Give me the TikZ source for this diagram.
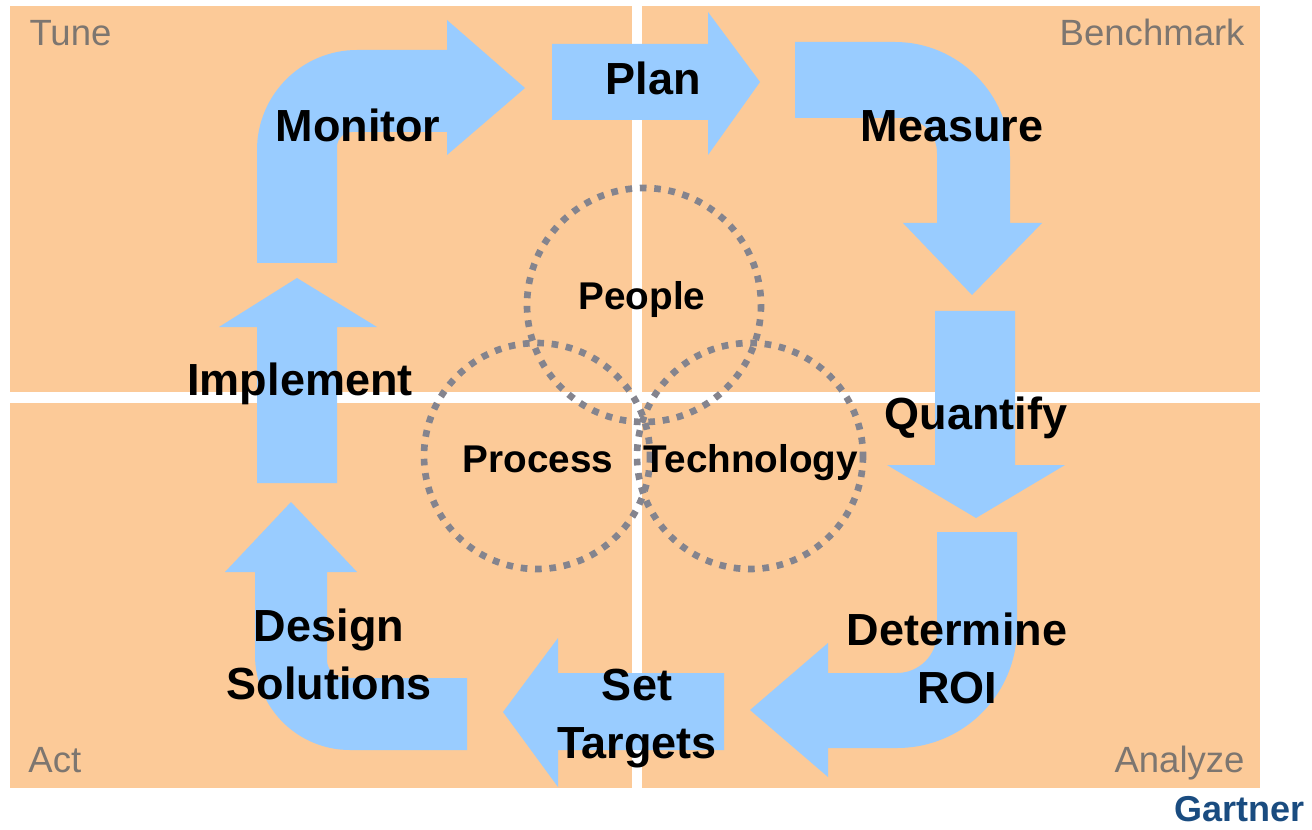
\documentclass[tikz,border=0pt]{standalone}
\usepackage{fontspec}
\setmainfont{Liberation Sans}
\usepackage{tikz}
\tikzset{every picture/.style={line width=0.75pt}}
\definecolor{peach}{RGB}{252,202,152}
\definecolor{flowblue}{RGB}{153,204,255}
\definecolor{ringgray}{RGB}{132,132,142}
\definecolor{cornergray}{RGB}{125,118,112}
\definecolor{gartnerblue}{RGB}{26,76,128}
\tikzset{
  quadrant/.style={fill=peach, draw=none},
  flow/.style={fill=flowblue, draw=none},
  ring/.style={draw=ringgray, line width=5pt, dash pattern=on 5pt off 5.8pt},
  steplabel/.style={font=\fontsize{33.75}{43.5}\selectfont\bfseries, inner sep=0.75pt},
  ringlabel/.style={font=\fontsize{29}{34}\selectfont\bfseries, inner sep=0.75pt},
  cornerlabel/.style={font=\fontsize{27.4}{32}\selectfont, text=cornergray, inner sep=0.75pt}
}

\begin{document}
\begin{tikzpicture}[x=0.75pt,y=0.75pt,yscale=-1,xscale=1]
\useasboundingbox (0,0) rectangle (1312,830);

%Shape: Rectangle (Tune)
\fill [quadrant] (10,6) -- (632,6) -- (632,392) -- (10,392) -- cycle ;
%Shape: Rectangle (Benchmark)
\fill [quadrant] (642,6) -- (1260,6) -- (1260,392) -- (642,392) -- cycle ;
%Shape: Rectangle (Act)
\fill [quadrant] (10,403) -- (632,403) -- (632,788) -- (10,788) -- cycle ;
%Shape: Rectangle (Analyze)
\fill [quadrant] (642,403) -- (1260,403) -- (1260,788) -- (642,788) -- cycle ;

%Shape: Circle (People)
\draw [ring] (644,305) circle (117) ;
%Shape: Circle (Process)
\draw [ring] (537,456) circle (113) ;
%Shape: Circle (Technology)
\draw [ring] (750,456) circle (113) ;

%Shape: Right Arrow (Plan)
\fill [flow] (552,44) -- (708,44) -- (708,12) -- (760,82) -- (708,155) -- (708,120) -- (552,120) -- cycle ;
%Shape: Bent Arrow (Measure)
\fill [flow] (795,42) -- (895,42) .. controls (958,42) and (1010,94) .. (1010,157) -- (1010,223) -- (1042,223) -- (972,295) -- (903,223) -- (937,223) -- (937,153) .. controls (937,133.7) and (921.3,118) .. (902,118) -- (795,118) -- cycle ;
%Shape: Down Arrow (Quantify)
\fill [flow] (935,311) -- (1015,311) -- (1015,465) -- (1065,465) -- (976,518) -- (887,465) -- (935,465) -- cycle ;
%Shape: Bent Arrow (Determine ROI)
\fill [flow] (937,532) -- (1017,532) -- (1017,628) .. controls (1017,694.3) and (963.3,748) .. (897,748) -- (828,748) -- (828,777) -- (750,710) -- (828,643) -- (828,673) -- (897,673) .. controls (919.1,673) and (937,655.1) .. (937,633) -- cycle ;
%Shape: Left Arrow (Set Targets)
\fill [flow] (724,673) -- (558,673) -- (558,638) -- (503,712) -- (558,787) -- (558,750) -- (724,750) -- cycle ;
%Shape: Bent Arrow (Design Solutions)
\fill [flow] (467,678) -- (467,750) -- (350,750) .. controls (297.5,750) and (255,707.5) .. (255,655) -- (255,572) -- (225,572) -- (291,502) -- (357,572) -- (327,572) -- (327,660) .. controls (327,669.9) and (335.1,678) .. (345,678) -- cycle ;
%Shape: Up Arrow (Implement)
\fill [flow] (257,483) -- (257,327) -- (219,327) -- (297,278) -- (377,327) -- (337,327) -- (337,483) -- cycle ;
%Shape: Bent Arrow (Monitor)
\fill [flow] (257,263) -- (257,150) .. controls (257,94.8) and (301.8,50) .. (357,50) -- (447,50) -- (447,20) -- (525,88) -- (447,155) -- (447,132) -- (352,132) .. controls (343.7,132) and (337,138.7) .. (337,147) -- (337,263) -- cycle ;

% Text Node
\draw (28,46) node [anchor=base west] [cornerlabel] (tune) {Tune};
% Text Node
\draw (1246,46) node [anchor=base east] [cornerlabel] (benchmark) {Benchmark};
% Text Node
\draw (27,772) node [anchor=base west] [cornerlabel] (act) {Act};
% Text Node
\draw (1246,772) node [anchor=base east] [cornerlabel] (analyze) {Analyze};
% Text Node
\draw (653,95) node [anchor=base] [steplabel] (plan) {Plan};
% Text Node
\draw (952,142) node [anchor=base] [steplabel] (measure) {Measure};
% Text Node
\draw (976,429) node [anchor=base] [steplabel] (quantify) {Quantify};
% Text Node
\draw (957,658) node [steplabel] [align=center] (roi) {Determine\\ROI};
% Text Node
\draw (637,719) node [steplabel] [align=center] (targets) {Set\\Targets};
% Text Node
\draw (329,654) node [steplabel] [align=center] (design) {Design\\Solutions};
% Text Node
\draw (300,395) node [anchor=base] [steplabel] (implement) {Implement};
% Text Node
\draw (358,142) node [anchor=base] [steplabel] (monitor) {Monitor};
% Text Node
\draw (642,310) node [anchor=base] [ringlabel] (people) {People};
% Text Node
\draw (538,472) node [anchor=base] [ringlabel] (process) {Process};
% Text Node
\draw (751,472) node [anchor=base] [ringlabel] (technology) {Technology};
% Text Node
\draw (1306,821) node [anchor=base east] [font=\fontsize{27}{32}\selectfont\bfseries, text=gartnerblue, inner sep=0.75pt] (gartner) {Gartner};

\end{tikzpicture}
\end{document}
